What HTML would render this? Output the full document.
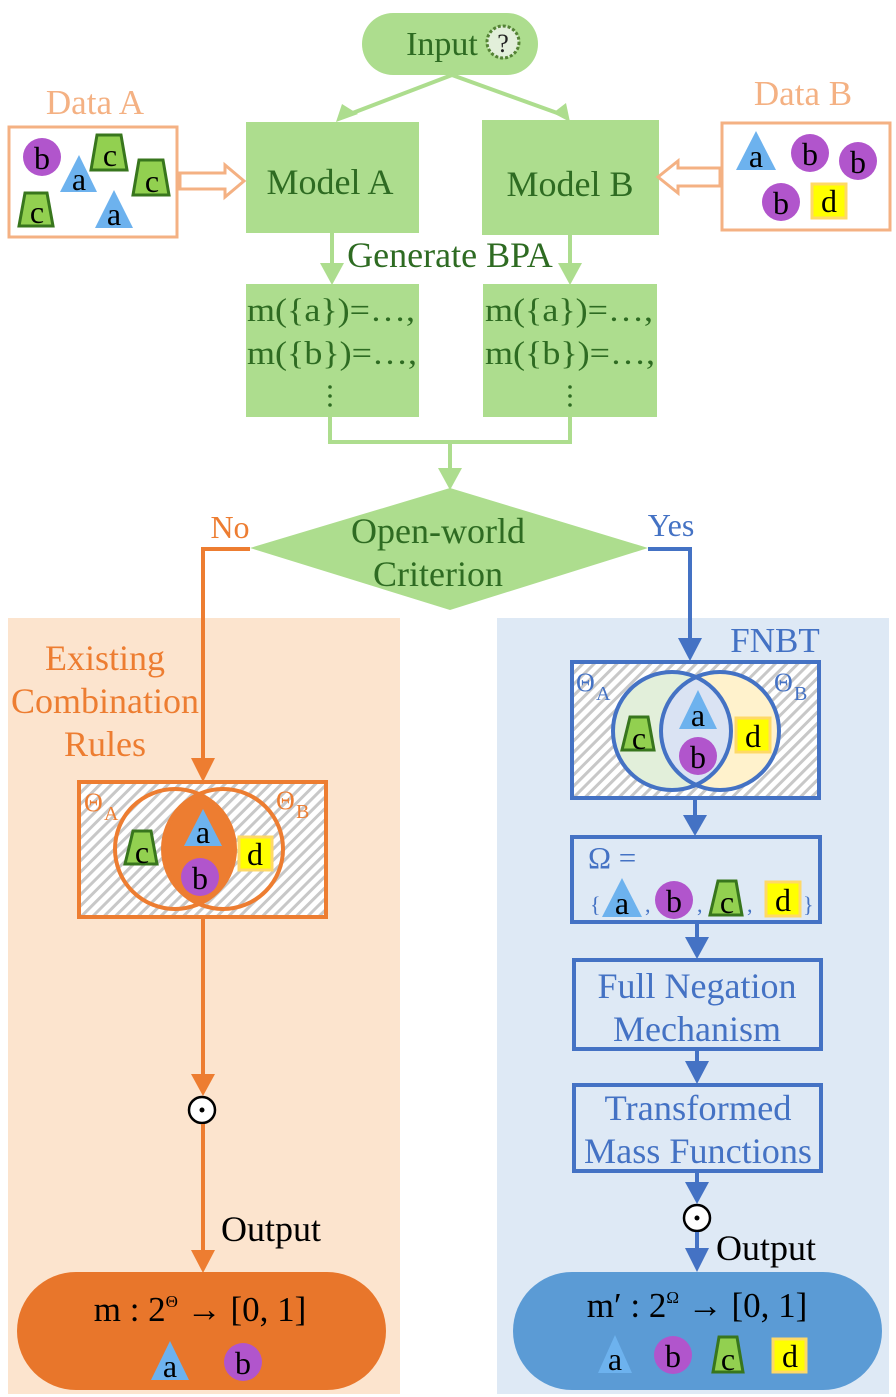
<!DOCTYPE html>
<html><head><meta charset="utf-8"><style>
html,body{margin:0;padding:0;background:#fff;}
svg{display:block;}
text{font-family:"Liberation Serif","DejaVu Serif",serif;}
</style></head><body>
<svg width="896" height="1397" viewBox="0 0 896 1397" xmlns="http://www.w3.org/2000/svg">
<defs>
<pattern id="hatch" width="8" height="8" patternUnits="userSpaceOnUse" patternTransform="rotate(45)">
<rect width="8" height="8" fill="#fff"/><rect width="3" height="8" fill="#c8c8c8"/>
</pattern>
</defs>
<rect x="8" y="618" width="392" height="776" fill="#FCE4CE"/>
<rect x="497" y="618" width="392" height="776" fill="#DEE9F5"/>

<!-- Input -->
<rect x="362" y="13" width="176" height="62" rx="31" fill="#ADDD8E"/>
<text x="442" y="55" font-size="34" fill="#2E6B22" text-anchor="middle">Input</text>
<circle cx="503" cy="42" r="16" fill="#E2EFDA" stroke="#548235" stroke-width="3" stroke-dasharray="3 2"/>
<text x="503" y="52" font-size="26" fill="#222" text-anchor="middle">?</text>
<g stroke="#ADDD8E" stroke-width="4" fill="none">
<line x1="452" y1="75" x2="350" y2="114"/><line x1="452" y1="75" x2="560" y2="114"/>
</g>
<polygon points="336,122 342,104 358,114" fill="#ADDD8E"/>
<polygon points="570,122 553,113 566,103" fill="#ADDD8E"/>

<rect x="246" y="122" width="173" height="111" fill="#ADDD8E"/>
<rect x="482" y="120" width="177" height="115" fill="#ADDD8E"/>
<text x="330" y="194" font-size="36" fill="#2E6B22" text-anchor="middle">Model A</text>
<text x="570" y="196" font-size="36" fill="#2E6B22" text-anchor="middle">Model B</text>

<text x="95" y="114" font-size="35" fill="#F4B183" text-anchor="middle">Data A</text>
<rect x="9" y="127" width="168" height="110" fill="#fff" stroke="#F4B183" stroke-width="3"/>
<polygon points="180,173 225,173 225,165 244,181 225,197 225,189 180,189" fill="#fff" stroke="#F4B183" stroke-width="3"/>
<text x="803" y="105" font-size="35" fill="#F4B183" text-anchor="middle">Data B</text>
<rect x="722" y="123" width="168" height="107" fill="#fff" stroke="#F4B183" stroke-width="3"/>
<polygon points="720,168 678,168 678,161 658,177 678,193 678,186 720,186" fill="#fff" stroke="#F4B183" stroke-width="3"/>

<g font-size="32" text-anchor="middle">
<circle cx="42" cy="157" r="19" fill="#B155CC"/><text x="42" y="169">b</text>
<polygon points="79,155 60,192 97,192" fill="#6DB2EE"/><text x="79" y="190">a</text>
<polygon points="97,135 121,135 127,170 91,170" fill="#92D050" stroke="#38761D" stroke-width="3"/><text x="110" y="166">c</text>
<polygon points="139,160 163,160 169,195 133,195" fill="#92D050" stroke="#38761D" stroke-width="3"/><text x="152" y="192">c</text>
<polygon points="25,193 47,193 53,226 19,226" fill="#92D050" stroke="#38761D" stroke-width="3"/><text x="37" y="223">c</text>
<polygon points="114,190 95,228 133,228" fill="#6DB2EE"/><text x="114" y="225">a</text>
<polygon points="756,131 736,170 776,170" fill="#6DB2EE"/><text x="756" y="167">a</text>
<circle cx="810" cy="153" r="19" fill="#B155CC"/><text x="810" y="165">b</text>
<circle cx="858" cy="161" r="19" fill="#B155CC"/><text x="858" y="173">b</text>
<circle cx="781" cy="202" r="19" fill="#B155CC"/><text x="781" y="214">b</text>
<rect x="812" y="184" width="34" height="34" fill="#FFFF00" stroke="#FFD966" stroke-width="3"/><text x="829" y="212">d</text>
</g>

<g stroke="#ADDD8E" stroke-width="4" fill="none">
<line x1="332" y1="233" x2="332" y2="266"/><line x1="570" y1="235" x2="570" y2="266"/>
<polyline points="330,417 330,442 570,442 570,417"/>
<line x1="450" y1="442" x2="450" y2="472"/>
</g>
<polygon points="320,263 344,263 332,285" fill="#ADDD8E"/>
<polygon points="558,263 582,263 570,285" fill="#ADDD8E"/>
<polygon points="438,468 462,468 450,490" fill="#ADDD8E"/>
<text x="450" y="267" font-size="36" fill="#2E6B22" text-anchor="middle">Generate BPA</text>

<rect x="246" y="284" width="173" height="133" fill="#ADDD8E"/>
<rect x="483" y="284" width="174" height="133" fill="#ADDD8E"/>
<g font-size="33" fill="#2E6B22">
<text x="247" y="321" textLength="168" lengthAdjust="spacingAndGlyphs">m({a})=…,</text>
<text x="247" y="364" textLength="170" lengthAdjust="spacingAndGlyphs">m({b})=…,</text>
<text x="485" y="321" textLength="168" lengthAdjust="spacingAndGlyphs">m({a})=…,</text>
<text x="485" y="364" textLength="170" lengthAdjust="spacingAndGlyphs">m({b})=…,</text>
</g>
<g fill="#2E6B22"><circle cx="330" cy="387" r="1.8"/><circle cx="330" cy="396" r="1.8"/><circle cx="330" cy="405" r="1.8"/>
<circle cx="570" cy="387" r="1.8"/><circle cx="570" cy="396" r="1.8"/><circle cx="570" cy="405" r="1.8"/></g>

<polygon points="450,488 648,548 450,610 250,548" fill="#ADDD8E"/>
<text x="438" y="543" font-size="36" fill="#2E6B22" text-anchor="middle">Open-world</text>
<text x="438" y="586" font-size="36" fill="#2E6B22" text-anchor="middle">Criterion</text>
<text x="230" y="538" font-size="32" fill="#ED7D31" text-anchor="middle">No</text>
<text x="671" y="536" font-size="32" fill="#4472C4" text-anchor="middle">Yes</text>
<polyline points="250,549 203,549 203,762" fill="none" stroke="#ED7D31" stroke-width="4"/>
<polygon points="191,758 215,758 203,782" fill="#ED7D31"/>
<polyline points="648,549 690,549 690,640" fill="none" stroke="#4472C4" stroke-width="4"/>
<polygon points="678,638 702,638 690,661" fill="#4472C4"/>

<g font-size="36" fill="#ED7D31" text-anchor="middle">
<text x="105" y="670">Existing</text><text x="105" y="713">Combination</text><text x="105" y="756">Rules</text>
</g>
<rect x="79" y="782" width="247" height="135" fill="url(#hatch)" stroke="#ED7D31" stroke-width="4"/>
<path d="M199,794 A60,60 0 0 1 199,904 A60,60 0 0 1 199,794Z" fill="#ED7D31"/>
<circle cx="175" cy="849" r="60" fill="none" stroke="#ED7D31" stroke-width="4"/>
<circle cx="223" cy="849" r="60" fill="none" stroke="#ED7D31" stroke-width="4"/>
<text x="84" y="811" font-size="26" fill="#ED7D31">Θ</text><text x="104" y="820" font-size="20" fill="#ED7D31">A</text>
<text x="276" y="809" font-size="26" fill="#ED7D31">Θ</text><text x="296" y="818" font-size="20" fill="#ED7D31">B</text>
<g font-size="32" text-anchor="middle">
<polygon points="133,831 151,831 157,864 125,864" fill="#92D050" stroke="#38761D" stroke-width="3"/><text x="142" y="863">c</text>
<polygon points="203,809 184,846 222,846" fill="#6DB2EE"/><text x="203" y="843">a</text>
<circle cx="200" cy="877" r="19" fill="#B155CC"/><text x="200" y="889">b</text>
<rect x="239" y="837" width="33" height="33" fill="#FFFF00" stroke="#FFD966" stroke-width="3"/><text x="255" y="865">d</text>
</g>
<line x1="203" y1="917" x2="203" y2="1078" stroke="#ED7D31" stroke-width="4"/>
<polygon points="191,1074 215,1074 203,1096" fill="#ED7D31"/>
<circle cx="202" cy="1110" r="13" fill="#fff" stroke="#000" stroke-width="2.5"/><circle cx="202" cy="1110" r="2.5" fill="#000"/>
<line x1="203" y1="1124" x2="203" y2="1254" stroke="#ED7D31" stroke-width="4"/>
<polygon points="191,1250 215,1250 203,1273" fill="#ED7D31"/>
<text x="271" y="1241" font-size="36" text-anchor="middle">Output</text>
<rect x="17" y="1272" width="369" height="118" rx="59" fill="#E8762B"/>
<text x="200" y="1321" font-size="35" text-anchor="middle">m : 2<tspan font-size="17" dy="-14">Θ</tspan><tspan dy="14"> → [0, 1]</tspan></text>
<g font-size="32" text-anchor="middle">
<polygon points="170,1341 151,1380 189,1380" fill="#6DB2EE"/><text x="170" y="1377">a</text>
<circle cx="243" cy="1362" r="19" fill="#B155CC"/><text x="243" y="1374">b</text>
</g>

<text x="775" y="652" font-size="35" fill="#4472C4" text-anchor="middle">FNBT</text>
<rect x="572" y="662" width="247" height="136" fill="url(#hatch)" stroke="#4472C4" stroke-width="4"/>
<circle cx="672" cy="731" r="59" fill="#E2EFDA"/>
<circle cx="720" cy="731" r="59" fill="#FFF2CC"/>
<path d="M696,677 A59,59 0 0 1 696,785 A59,59 0 0 1 696,677Z" fill="#DAE3F3"/>
<circle cx="672" cy="731" r="59" fill="none" stroke="#4472C4" stroke-width="4"/>
<circle cx="720" cy="731" r="59" fill="none" stroke="#4472C4" stroke-width="4"/>
<text x="576" y="691" font-size="26" fill="#4472C4">Θ</text><text x="596" y="700" font-size="20" fill="#4472C4">A</text>
<text x="774" y="691" font-size="26" fill="#4472C4">Θ</text><text x="794" y="700" font-size="20" fill="#4472C4">B</text>
<g font-size="32" text-anchor="middle">
<polygon points="630,717 648,717 654,750 622,750" fill="#92D050" stroke="#38761D" stroke-width="3"/><text x="639" y="749">c</text>
<polygon points="698,690 679,729 717,729" fill="#6DB2EE"/><text x="698" y="726">a</text>
<circle cx="698" cy="756" r="19" fill="#B155CC"/><text x="698" y="768">b</text>
<rect x="736" y="718" width="34" height="34" fill="#FFFF00" stroke="#FFD966" stroke-width="3"/><text x="753" y="747">d</text>
</g>

<line x1="695" y1="798" x2="695" y2="818" stroke="#4472C4" stroke-width="4"/>
<polygon points="683,815 707,815 695,836" fill="#4472C4"/>
<rect x="572" y="837" width="248" height="85" fill="none" stroke="#4472C4" stroke-width="4"/>
<text x="588" y="868" font-size="31" fill="#4472C4">Ω =</text>
<text x="590" y="912" font-size="22" fill="#4472C4">{</text>
<text x="645" y="912" font-size="22" fill="#4472C4">,</text>
<text x="697" y="912" font-size="22" fill="#4472C4">,</text>
<text x="747" y="912" font-size="22" fill="#4472C4">,</text>
<text x="803" y="912" font-size="22" fill="#4472C4">}</text>
<g font-size="32" text-anchor="middle">
<polygon points="622,878 602,917 642,917" fill="#6DB2EE"/><text x="622" y="914">a</text>
<circle cx="674" cy="900" r="19" fill="#B155CC"/><text x="674" y="912">b</text>
<polygon points="718,881 736,881 742,915 710,915" fill="#92D050" stroke="#38761D" stroke-width="3"/><text x="727" y="913">c</text>
<rect x="766" y="882" width="34" height="34" fill="#FFFF00" stroke="#FFD966" stroke-width="3"/><text x="783" y="911">d</text>
</g>

<line x1="697" y1="922" x2="697" y2="940" stroke="#4472C4" stroke-width="4"/>
<polygon points="685,937 709,937 697,959" fill="#4472C4"/>
<rect x="574" y="960" width="247" height="89" fill="none" stroke="#4472C4" stroke-width="4"/>
<text x="697" y="998" font-size="36" fill="#4472C4" text-anchor="middle">Full Negation</text>
<text x="697" y="1041" font-size="36" fill="#4472C4" text-anchor="middle">Mechanism</text>
<line x1="697" y1="1049" x2="697" y2="1064" stroke="#4472C4" stroke-width="4"/>
<polygon points="685,1061 709,1061 697,1084" fill="#4472C4"/>
<rect x="574" y="1085" width="247" height="86" fill="none" stroke="#4472C4" stroke-width="4"/>
<text x="698" y="1120" font-size="36" fill="#4472C4" text-anchor="middle" textLength="187" lengthAdjust="spacingAndGlyphs">Transformed</text>
<text x="698" y="1163" font-size="36" fill="#4472C4" text-anchor="middle" textLength="228" lengthAdjust="spacingAndGlyphs">Mass Functions</text>
<line x1="697" y1="1171" x2="697" y2="1186" stroke="#4472C4" stroke-width="4"/>
<polygon points="685,1182 709,1182 697,1204" fill="#4472C4"/>
<circle cx="697" cy="1218" r="13" fill="#fff" stroke="#000" stroke-width="2.5"/><circle cx="697" cy="1218" r="2.5" fill="#000"/>
<line x1="697" y1="1232" x2="697" y2="1252" stroke="#4472C4" stroke-width="4"/>
<polygon points="685,1248 709,1248 697,1272" fill="#4472C4"/>
<text x="766" y="1260" font-size="36" text-anchor="middle">Output</text>
<rect x="513" y="1272" width="369" height="118" rx="59" fill="#5B9BD5"/>
<text x="697" y="1317" font-size="35" text-anchor="middle">m′ : 2<tspan font-size="17" dy="-14">Ω</tspan><tspan dy="14"> → [0, 1]</tspan></text>
<g font-size="32" text-anchor="middle">
<polygon points="615,1335 598,1373 632,1373" fill="#6DB2EE"/><text x="615" y="1370">a</text>
<circle cx="673" cy="1355" r="19" fill="#B155CC"/><text x="673" y="1367">b</text>
<polygon points="719,1337 737,1337 743,1372 713,1372" fill="#92D050" stroke="#38761D" stroke-width="3"/><text x="728" y="1370">c</text>
<rect x="773" y="1339" width="33" height="33" fill="#FFFF00" stroke="#FFD966" stroke-width="3"/><text x="790" y="1367">d</text>
</g>
</svg>
</body></html>
